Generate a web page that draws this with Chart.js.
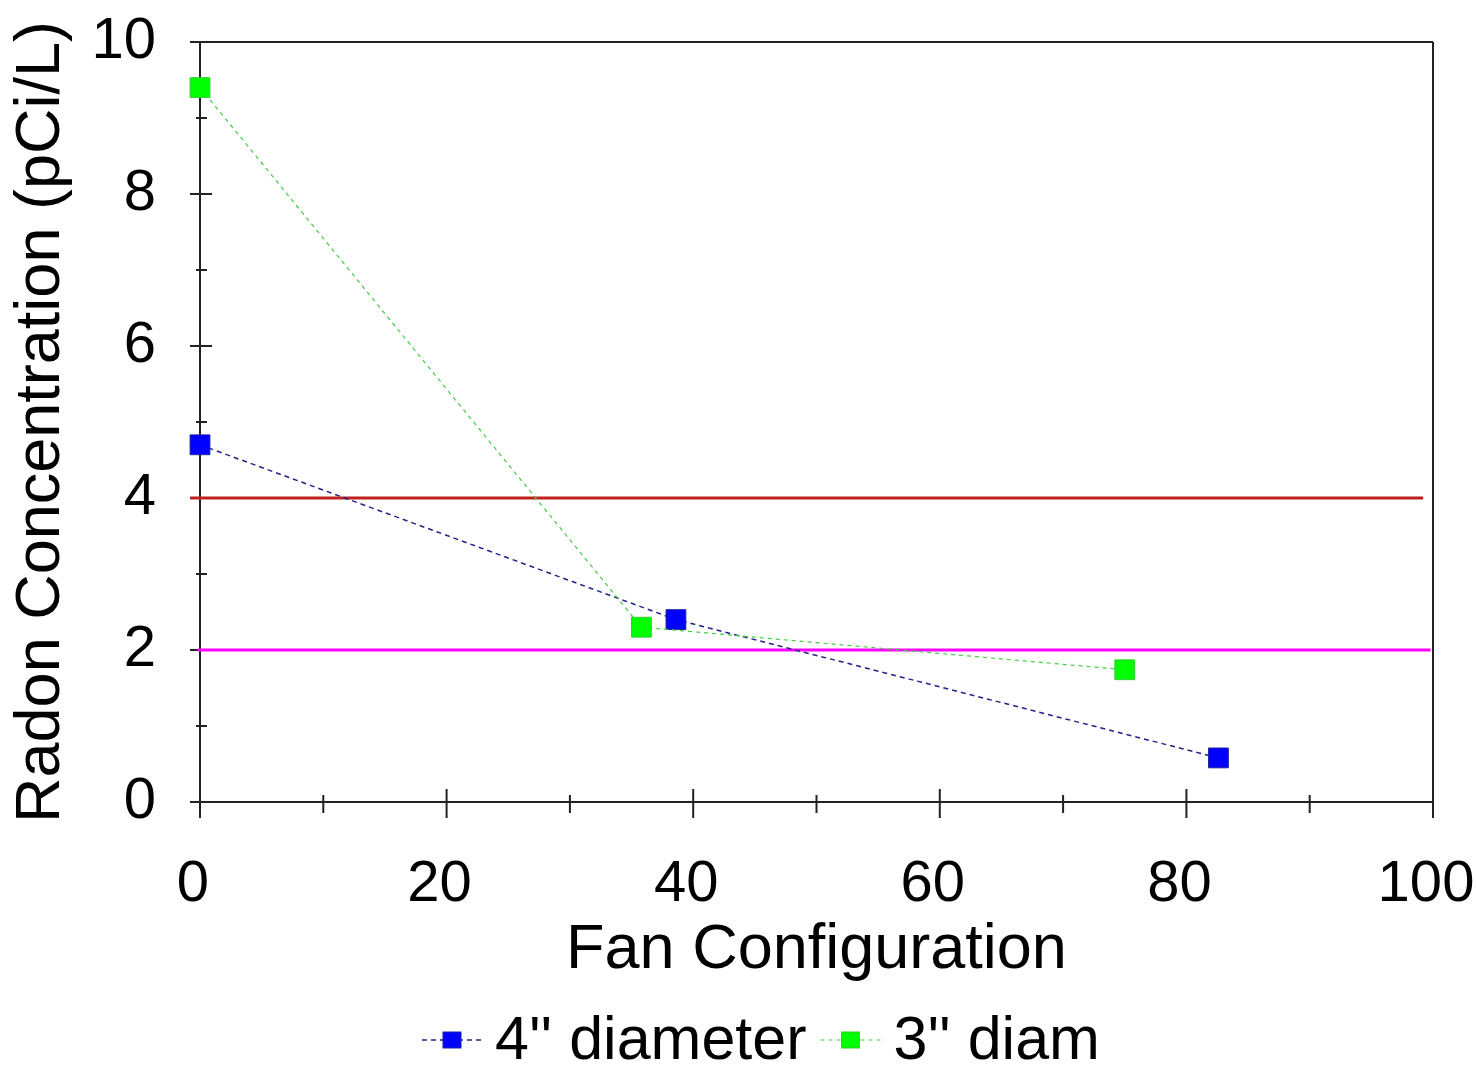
<!DOCTYPE html>
<html>
<head>
<meta charset="utf-8">
<script src="https://cdn.jsdelivr.net/npm/chart.js@4.4.1/dist/chart.umd.min.js"></script>
<style>
  html, body { margin: 0; padding: 0; background: #ffffff; }
  #wrap { width: 1476px; height: 1068px; position: relative; }
</style>
</head>
<body>
<div id="wrap"><canvas id="c" width="1476" height="1068"></canvas></div>
<script>
// ---- Data ----
const seriesNames = ["4'' diameter", "3'' diam"];
const fan4x = [0, 38.6, 82.6];
const fan4y = [4.7, 2.4, 0.58];
const fan3x = [0, 35.8, 75.0];
const fan3y = [9.4, 2.3, 1.74];
const refRedX = [-0.8, 99.2];
const refRedY = [4, 4];
const refMagX = [-0.2, 99.8];
const refMagY = [2, 2];
const xMajorTicks = [0, 20, 40, 60, 80, 100];
const xMinorTicks = [10, 30, 50, 70, 90];
const yMajorTicks = [0, 2, 4, 6, 8, 10];
const yMinorTicks = [1, 3, 5, 7, 9];
const xTitle = 'Fan Configuration';
const yTitle = 'Radon Concentration (pCi/L)';

const FONT = "'Liberation Sans', Arial, sans-serif";
const pts = (xs, ys) => xs.map((x, i) => ({x: x, y: ys[i]}));

const axisPlugin = {
  id: 'axisFrame',
  beforeDatasetsDraw(chart) {
    const ctx = chart.ctx;
    const xs = chart.scales.x, ys = chart.scales.y;
    const L = xs.getPixelForValue(0), R = xs.getPixelForValue(100);
    const T = ys.getPixelForValue(10), B = ys.getPixelForValue(0);
    ctx.save();
    ctx.strokeStyle = '#222222';
    ctx.lineWidth = 2;
    ctx.beginPath();
    ctx.moveTo(L, T); ctx.lineTo(L, B);
    ctx.moveTo(L, B); ctx.lineTo(R, B);
    ctx.moveTo(L, T); ctx.lineTo(R, T);
    ctx.moveTo(R, T); ctx.lineTo(R, B);
    xMajorTicks.forEach(v => { const p = xs.getPixelForValue(v); ctx.moveTo(p, B - 13); ctx.lineTo(p, B + 16); });
    xMinorTicks.forEach(v => { const p = xs.getPixelForValue(v); ctx.moveTo(p, B - 7); ctx.lineTo(p, B + 11); });
    yMajorTicks.forEach(v => { const p = ys.getPixelForValue(v); ctx.moveTo(L - 10, p); ctx.lineTo(L + 12, p); });
    yMinorTicks.forEach(v => { const p = ys.getPixelForValue(v); ctx.moveTo(L - 4, p); ctx.lineTo(L + 7, p); });
    ctx.stroke();
    ctx.restore();
  }
};

const legendPlugin = {
  id: 'customLegend',
  afterDraw(chart) {
    const ctx = chart.ctx;
    ctx.save();
    ctx.font = '61px ' + FONT;
    ctx.textBaseline = 'middle';
    ctx.textAlign = 'left';
    const cy = 1040;
    let x = 422;
    [0, 1].forEach(i => {
      const ds = chart.data.datasets[i];
      ctx.save();
      ctx.strokeStyle = ds.borderColor;
      ctx.lineWidth = ds.borderWidth;
      ctx.setLineDash(ds.borderDash);
      ctx.beginPath();
      ctx.moveTo(x, cy); ctx.lineTo(x + 60, cy);
      ctx.stroke();
      ctx.setLineDash([]);
      ctx.fillStyle = ds.pointBackgroundColor;
      ctx.strokeStyle = ds.pointBorderColor;
      ctx.lineWidth = 1;
      ctx.fillRect(x + 21, cy - 8, 18, 16);
      ctx.strokeRect(x + 21, cy - 8, 18, 16);
      ctx.restore();
      ctx.fillStyle = '#000000';
      ctx.fillText(ds.label, x + 73, cy + 2);
      x += 73 + ctx.measureText(ds.label).width + 14;
    });
    ctx.restore();
  }
};

new Chart(document.getElementById('c'), {
  type: 'line',
  data: {
    datasets: [
      {
        label: seriesNames[0],
        data: pts(fan4x, fan4y),
        borderColor: '#22228a',
        borderWidth: 1.5,
        borderDash: [5, 4],
        pointStyle: 'rect',
        pointRadius: 14,
        pointBackgroundColor: '#0000ff',
        pointBorderColor: '#2020a0',
        pointBorderWidth: 1,
        clip: false,
        order: 1
      },
      {
        label: seriesNames[1],
        data: pts(fan3x, fan3y),
        borderColor: '#44cc44',
        borderWidth: 1.2,
        borderDash: [4, 4],
        pointStyle: 'rect',
        pointRadius: 14,
        pointBackgroundColor: '#00ff00',
        pointBorderColor: '#33cc33',
        pointBorderWidth: 1,
        clip: false,
        order: 0
      },
      {
        label: 'ref4',
        data: pts(refRedX, refRedY),
        borderColor: '#c0201c',
        borderWidth: 3,
        pointRadius: 0,
        clip: false,
        order: 2
      },
      {
        label: 'ref2',
        data: pts(refMagX, refMagY),
        borderColor: '#ff00ff',
        borderWidth: 3,
        pointRadius: 0,
        clip: false,
        order: 2
      }
    ]
  },
  options: {
    responsive: false,
    animation: false,
    devicePixelRatio: 1,
    layout: { padding: { left: 0, top: 42, right: 43, bottom: 86 } },
    plugins: { legend: { display: false }, tooltip: { enabled: false } },
    scales: {
      x: {
        type: 'linear',
        min: 0, max: 100,
        grid: { display: false, drawTicks: false },
        border: { display: false },
        ticks: {
          stepSize: 20,
          padding: 54,
          labelOffset: -7,
          color: '#000000',
          font: { family: FONT, size: 58, lineHeight: 1 }
        },
        title: {
          display: true,
          text: xTitle,
          color: '#000000',
          padding: { top: 0, bottom: 0 },
          font: { family: FONT, size: 63, lineHeight: 1 }
        },
        afterFit(scale) { scale.height = 180; scale.paddingLeft = 0; scale.paddingRight = 0; }
      },
      y: {
        type: 'linear',
        min: 0, max: 10,
        grid: { display: false, drawTicks: false },
        border: { display: false },
        ticks: {
          stepSize: 2,
          padding: 44,
          color: '#000000',
          font: { family: FONT, size: 58, lineHeight: 1 }
        },
        title: {
          display: true,
          text: yTitle,
          color: '#000000',
          padding: { top: 10, bottom: 0 },
          font: { family: FONT, size: 63, lineHeight: 1 }
        },
        afterFit(scale) { scale.width = 200; scale.paddingTop = 0; scale.paddingBottom = 0; }
      }
    }
  },
  plugins: [axisPlugin, legendPlugin]
});
</script>
</body>
</html>
